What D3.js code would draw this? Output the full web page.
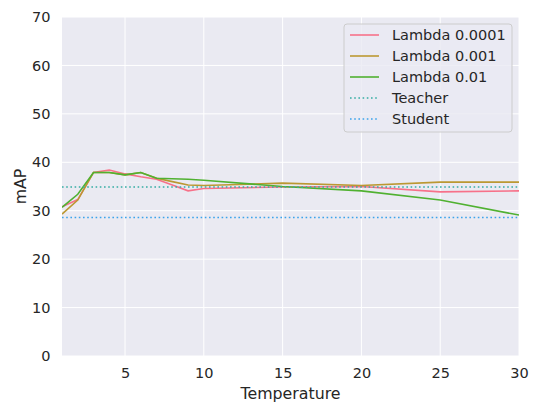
<!DOCTYPE html>
<html><head><meta charset="utf-8">
<script src="https://cdn.jsdelivr.net/npm/d3@7"></script>
<style>body{margin:0;background:#fff;} text{font-family:"DejaVu Sans",sans-serif;fill:#262626;}</style>
</head><body>
<svg id="c" width="534" height="405"></svg>
<script>
const temps = [1,2,3,4,5,6,7,8,9,10,15,20,25,30];
const lambda00001 = [30.8,32.3,37.9,38.4,37.6,37.0,36.5,35.3,34.1,34.6,34.9,35.0,33.9,34.1];
const lambda0001  = [29.3,32.2,37.9,37.9,37.4,37.9,36.7,36.0,35.3,35.2,35.7,35.2,35.9,35.9];
const lambda001   = [30.7,33.4,37.9,37.9,37.4,37.9,36.7,36.6,36.5,36.3,35.0,34.1,32.2,29.1];
const teacherMAP = 34.9;
const studentMAP = 28.6;
const seriesNames = ["Lambda 0.0001","Lambda 0.001","Lambda 0.01"];
const refNames = ["Teacher","Student"];
const xTicks = [5,10,15,20,25,30];
const yTicks = [0,10,20,30,40,50,60,70];
const colors = ["#f77189","#bb9832","#50b131","#36ada4","#3ba3ec"];

const svg = d3.select("#c");
const L=62,R=519,T=17,B=356;
const x = d3.scaleLinear().domain([1,30]).range([L,R]);
const y = d3.scaleLinear().domain([0,70]).range([B,T]);

svg.append("rect").attr("x",L).attr("y",T).attr("width",R-L).attr("height",B-T).attr("fill","#eaeaf2");
// grid
svg.append("g").selectAll("line").data(xTicks).join("line")
  .attr("x1",d=>x(d)).attr("x2",d=>x(d)).attr("y1",T).attr("y2",B)
  .attr("stroke","#fff").attr("stroke-width",1);
svg.append("g").selectAll("line").data(yTicks).join("line")
  .attr("x1",L).attr("x2",R).attr("y1",d=>y(d)).attr("y2",d=>y(d))
  .attr("stroke","#fff").attr("stroke-width",1);

// axes
const xa = svg.append("g").attr("transform",`translate(0,${B})`)
  .call(d3.axisBottom(x).tickValues(xTicks).tickSize(0).tickPadding(11.5));
xa.select(".domain").remove();
xa.selectAll("text").attr("font-size","14.5px").attr("font-family","DejaVu Sans").attr("fill","#262626");
const ya = svg.append("g").attr("transform",`translate(${L},0)`)
  .call(d3.axisLeft(y).tickValues(yTicks).tickSize(0).tickPadding(11.5));
ya.select(".domain").remove();
ya.selectAll("text").attr("font-size","14.5px").attr("font-family","DejaVu Sans").attr("fill","#262626");

svg.append("text").attr("x",(L+R)/2).attr("y",399).attr("text-anchor","middle")
  .attr("font-size","15.8px").text("Temperature");
svg.append("text").attr("transform",`translate(26,${(T+B)/2}) rotate(-90)`).attr("text-anchor","middle")
  .attr("font-size","15.8px").text("mAP");

const clip = svg.append("clipPath").attr("id","cp").append("rect").attr("x",L).attr("y",T).attr("width",R-L).attr("height",B-T);
const g = svg.append("g").attr("clip-path","url(#cp)");
const line = d3.line().x((d,i)=>x(temps[i])).y(d=>y(d));
[lambda00001,lambda0001,lambda001].forEach((s,i)=>{
  g.append("path").datum(s).attr("d",line).attr("fill","none")
   .attr("stroke",colors[i]).attr("stroke-width",1.6);
});
[teacherMAP,studentMAP].forEach((v,i)=>{
  g.append("line").attr("x1",L).attr("x2",R).attr("y1",y(v)).attr("y2",y(v))
   .attr("stroke",colors[3+i]).attr("stroke-width",1.6).attr("stroke-dasharray","1.6,2.6");
});

// legend
const lg = svg.append("g");
lg.append("rect").attr("x",344).attr("y",24).attr("width",168).attr("height",108).attr("rx",3)
  .attr("fill","#eaeaf2").attr("fill-opacity",0.8).attr("stroke","#cccccc").attr("stroke-width",1);
const names = seriesNames.concat(refNames);
names.forEach((n,i)=>{
  const yy = 35 + i*21;
  lg.append("line").attr("x1",350).attr("x2",379).attr("y1",yy).attr("y2",yy)
    .attr("stroke",colors[i]).attr("stroke-width",1.6)
    .attr("stroke-dasharray", i>=3 ? "1.6,2.6" : null);
  lg.append("text").attr("x",392).attr("y",yy).attr("dy","0.35em").attr("font-size","14.5px").text(n);
});
</script>
</body></html>
